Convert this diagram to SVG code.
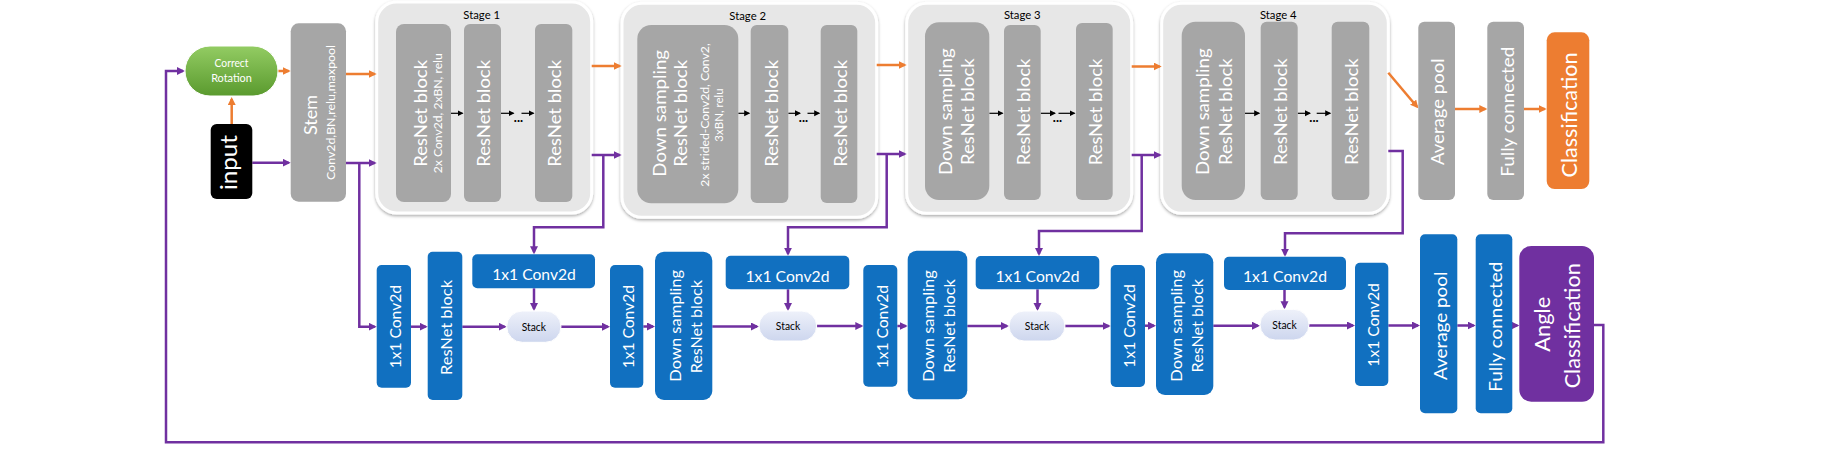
<svg xmlns="http://www.w3.org/2000/svg" width="1847" height="451" viewBox="0 0 1847 451">
<defs>
<style>
text{font-family:Lato,"Liberation Sans",sans-serif;}
.g{fill:#A6A6A6;}
.b{fill:#1170C0;}
.stage{fill:#E7E7E7;stroke:#FFFFFF;stroke-width:3;filter:url(#sh);}
.wt{fill:#FFFFFF;}
.vl{font-size:18px;fill:#FFFFFF;text-anchor:middle;}
.vs{font-size:11.5px;fill:#FFFFFF;text-anchor:middle;}
.bl{font-size:16px;fill:#FFFFFF;text-anchor:middle;}
.st{font-size:11.5px;fill:#000000;text-anchor:middle;}
.sk{font-size:10.5px;fill:#000000;text-anchor:middle;}
.pu{fill:none;stroke:#7030A0;stroke-width:2.5;}
.or{fill:none;stroke:#ED7D31;stroke-width:2.5;}
.bk{fill:none;stroke:#000000;stroke-width:1.2;}
.dots{font-size:13px;font-weight:bold;fill:#000000;text-anchor:middle;}
</style>
<filter id="sh" x="-10%" y="-10%" width="120%" height="120%">
<feDropShadow dx="0" dy="1.5" stdDeviation="1.5" flood-color="#000000" flood-opacity="0.35"/>
</filter>
<linearGradient id="gg" x1="0" y1="0" x2="0" y2="1">
<stop offset="0" stop-color="#93CC63"/>
<stop offset="1" stop-color="#5A9A2E"/>
</linearGradient>
<linearGradient id="sg" x1="0" y1="0" x2="0" y2="1">
<stop offset="0" stop-color="#EEF1FA"/>
<stop offset="1" stop-color="#CDD6EE"/>
</linearGradient>
<marker id="ap" markerUnits="userSpaceOnUse" markerWidth="9" markerHeight="9" refX="6" refY="4" orient="auto">
<path d="M0,0 L8,4 L0,8 z" fill="#7030A0"/>
</marker>
<marker id="ao" markerUnits="userSpaceOnUse" markerWidth="9" markerHeight="9" refX="6" refY="4" orient="auto">
<path d="M0,0 L8,4 L0,8 z" fill="#ED7D31"/>
</marker>
<marker id="ak" markerUnits="userSpaceOnUse" markerWidth="7" markerHeight="7" refX="5" refY="3" orient="auto">
<path d="M0,0 L6,3 L0,6 z" fill="#000000"/>
</marker>
</defs>
<rect x="0" y="0" width="1847" height="451" fill="#FFFFFF"/>

<!-- Stage containers -->
<g id="stage1">
<rect class="stage" x="376.7" y="2" width="215" height="211" rx="20"/>
<text class="st" x="481.7" y="19" textLength="36.7" lengthAdjust="spacingAndGlyphs">Stage 1</text>
</g>
<g id="stage2">
<rect class="stage" x="622" y="3.3" width="254.7" height="214" rx="20"/>
<text class="st" x="747.7" y="20" textLength="36.7" lengthAdjust="spacingAndGlyphs">Stage 2</text>
</g>
<g id="stage3">
<rect class="stage" x="906.7" y="3.3" width="225" height="210" rx="20"/>
<text class="st" x="1022.3" y="19" textLength="36.7" lengthAdjust="spacingAndGlyphs">Stage 3</text>
</g>
<g id="stage4">
<rect class="stage" x="1161.7" y="3.3" width="226.6" height="210" rx="20"/>
<text class="st" x="1278.3" y="19" textLength="36.7" lengthAdjust="spacingAndGlyphs">Stage 4</text>
</g>

<!-- Connectors -->
<g id="connectors">
<path class="or" d="M231.7,124 V99" marker-end="url(#ao)"/>
<path class="or" d="M278,71 H288.7" marker-end="url(#ao)"/>
<path class="or" d="M346,74 H374.7" marker-end="url(#ao)"/>
<path class="or" d="M591.7,66 H619.7" marker-end="url(#ao)"/>
<path class="or" d="M876.7,65 H904.7" marker-end="url(#ao)"/>
<path class="or" d="M1131.7,66.5 H1159.7" marker-end="url(#ao)"/>
<path class="or" d="M1388.3,72.7 L1417,106.8" marker-end="url(#ao)"/>
<path class="or" d="M1455,109 H1485.3" marker-end="url(#ao)"/>
<path class="or" d="M1524,109 H1544.7" marker-end="url(#ao)"/>

<path class="pu" d="M252.3,162.7 H288.7" marker-end="url(#ap)"/>
<path class="pu" d="M346,163 H374.7" marker-end="url(#ap)"/>
<path class="pu" d="M359.3,163 V326.7 H374.7" marker-end="url(#ap)"/>
<path class="pu" d="M591.7,155 H619.7" marker-end="url(#ap)"/>
<path class="pu" d="M603.3,155 V227.3 H534 V252.3" marker-end="url(#ap)"/>
<path class="pu" d="M876.7,154 H904.7" marker-end="url(#ap)"/>
<path class="pu" d="M886.7,154 V227.3 H788 V253.7" marker-end="url(#ap)"/>
<path class="pu" d="M1131.7,155 H1159.7" marker-end="url(#ap)"/>
<path class="pu" d="M1141.7,155 V231 H1039 V254" marker-end="url(#ap)"/>
<path class="pu" d="M1388.3,151 H1402.7 V233.3 H1285 V254.7" marker-end="url(#ap)"/>

<path class="pu" d="M411,326.7 H425.7" marker-end="url(#ap)"/>
<path class="pu" d="M462.3,326.7 H504.7" marker-end="url(#ap)"/>
<path class="pu" d="M534,288.3 V309" marker-end="url(#ap)"/>
<path class="pu" d="M561,326.7 H608" marker-end="url(#ap)"/>
<path class="pu" d="M643.3,326.5 H653" marker-end="url(#ap)"/>
<path class="pu" d="M712.3,326.5 H757" marker-end="url(#ap)"/>
<path class="pu" d="M788,289.3 V309" marker-end="url(#ap)"/>
<path class="pu" d="M816.7,326 H861.3" marker-end="url(#ap)"/>
<path class="pu" d="M897.3,326 H905.7" marker-end="url(#ap)"/>
<path class="pu" d="M967.3,326 H1007" marker-end="url(#ap)"/>
<path class="pu" d="M1037.5,289.3 V309" marker-end="url(#ap)"/>
<path class="pu" d="M1065,326 H1108.7" marker-end="url(#ap)"/>
<path class="pu" d="M1145,325.7 H1154" marker-end="url(#ap)"/>
<path class="pu" d="M1213.3,325.7 H1258" marker-end="url(#ap)"/>
<path class="pu" d="M1284.5,290 V307.3" marker-end="url(#ap)"/>
<path class="pu" d="M1309,325.5 H1353" marker-end="url(#ap)"/>
<path class="pu" d="M1388.3,325.5 H1418" marker-end="url(#ap)"/>
<path class="pu" d="M1457.3,325.5 H1473.7" marker-end="url(#ap)"/>
<path class="pu" d="M1512.3,325.5 H1517.3" marker-end="url(#ap)"/>
<path class="pu" d="M1594,325 H1603.3 V442.3 H166 V71 H183" marker-end="url(#ap)"/>

<path class="bk" d="M451,113.3 H462.5" marker-end="url(#ak)"/>
<path class="bk" d="M501,113.3 H513.5" marker-end="url(#ak)"/>
<path class="bk" d="M521.5,113.3 H533.5" marker-end="url(#ak)"/>
<path class="bk" d="M738.3,113.3 H749.2" marker-end="url(#ak)"/>
<path class="bk" d="M788.3,113.3 H800" marker-end="url(#ak)"/>
<path class="bk" d="M807.5,113.3 H819.2" marker-end="url(#ak)"/>
<path class="bk" d="M989.3,113.3 H1002.5" marker-end="url(#ak)"/>
<path class="bk" d="M1040.7,113.3 H1055" marker-end="url(#ak)"/>
<path class="bk" d="M1058.5,113.3 H1074.5" marker-end="url(#ak)"/>
<path class="bk" d="M1245,113.3 H1259.2" marker-end="url(#ak)"/>
<path class="bk" d="M1297.7,113.3 H1310" marker-end="url(#ak)"/>
<path class="bk" d="M1316.7,113.3 H1330.2" marker-end="url(#ak)"/>
<text class="dots" x="518.5" y="122">...</text>
<text class="dots" x="803.5" y="122">...</text>
<text class="dots" x="1057.5" y="122">...</text>
<text class="dots" x="1314" y="122">...</text>
</g>

<!-- Top row nodes -->
<g id="correct-rotation">
<rect x="185" y="46" width="93" height="50" rx="25" fill="url(#gg)" stroke="#FFFFFF" stroke-width="1"/>
<text x="231.5" y="67" font-size="10.5" fill="#FFFFFF" text-anchor="middle" textLength="34" lengthAdjust="spacingAndGlyphs">Correct</text>
<text x="231.5" y="82" font-size="10.5" fill="#FFFFFF" text-anchor="middle" textLength="40.7" lengthAdjust="spacingAndGlyphs">Rotation</text>
</g>
<g id="input">
<rect x="210.7" y="124" width="41.6" height="75" rx="6" fill="#000000"/>
<text transform="translate(237,162.5) rotate(-90)" font-size="23" fill="#FFFFFF" text-anchor="middle" textLength="55" lengthAdjust="spacingAndGlyphs">input</text>
</g>
<g id="stem">
<rect class="g" x="290.7" y="23.3" width="55.3" height="178.4" rx="8"/>
<text class="vl" transform="translate(316.7,115) rotate(-90)" font-size="17" textLength="40" lengthAdjust="spacingAndGlyphs">Stem</text>
<text class="vs" transform="translate(335,112.5) rotate(-90)" textLength="135" lengthAdjust="spacingAndGlyphs">Conv2d,BN,relu,maxpool</text>
</g>

<g id="s1-block1">
<rect class="g" x="396" y="24" width="55" height="178" rx="8"/>
<text class="vl" transform="translate(426.7,113.3) rotate(-90)" textLength="106.7" lengthAdjust="spacingAndGlyphs">ResNet block</text>
<text class="vs" transform="translate(441.5,113.3) rotate(-90)" textLength="120" lengthAdjust="spacingAndGlyphs">2x Conv2d,  2xBN,  relu</text>
</g>
<g id="s1-block2">
<rect class="g" x="464" y="24" width="37" height="178" rx="6"/>
<text class="vl" transform="translate(490,113.3) rotate(-90)" textLength="106.7" lengthAdjust="spacingAndGlyphs">ResNet block</text>
</g>
<g id="s1-block3">
<rect class="g" x="535" y="24" width="37.3" height="178" rx="6"/>
<text class="vl" transform="translate(561.3,113.3) rotate(-90)" textLength="106.7" lengthAdjust="spacingAndGlyphs">ResNet block</text>
</g>

<g id="s2-block1">
<rect class="g" x="637.3" y="25" width="101" height="178.3" rx="14"/>
<text class="vl" transform="translate(666,113.3) rotate(-90)" textLength="126.7" lengthAdjust="spacingAndGlyphs">Down sampling</text>
<text class="vl" transform="translate(686.5,113.3) rotate(-90)" textLength="106.7" lengthAdjust="spacingAndGlyphs">ResNet block</text>
<text class="vs" transform="translate(709,115) rotate(-90)" textLength="143.3" lengthAdjust="spacingAndGlyphs">2x strided-Conv2d, Conv2,</text>
<text class="vs" transform="translate(723,115) rotate(-90)" textLength="53.3" lengthAdjust="spacingAndGlyphs">3xBN, relu</text>
</g>
<g id="s2-block2">
<rect class="g" x="750.7" y="25" width="37.6" height="178" rx="6"/>
<text class="vl" transform="translate(777.5,113.3) rotate(-90)" textLength="106.7" lengthAdjust="spacingAndGlyphs">ResNet block</text>
</g>
<g id="s2-block3">
<rect class="g" x="820.7" y="25" width="36.6" height="178" rx="6"/>
<text class="vl" transform="translate(846.5,113.3) rotate(-90)" textLength="106.7" lengthAdjust="spacingAndGlyphs">ResNet block</text>
</g>

<g id="s3-block1">
<rect class="g" x="925" y="22.3" width="64.3" height="177.7" rx="14"/>
<text class="vl" transform="translate(951.5,111.7) rotate(-90)" textLength="126.7" lengthAdjust="spacingAndGlyphs">Down sampling</text>
<text class="vl" transform="translate(974,111.7) rotate(-90)" textLength="106.7" lengthAdjust="spacingAndGlyphs">ResNet block</text>
</g>
<g id="s3-block2">
<rect class="g" x="1004" y="25" width="36.7" height="175" rx="6"/>
<text class="vl" transform="translate(1029.8,112) rotate(-90)" textLength="106.7" lengthAdjust="spacingAndGlyphs">ResNet block</text>
</g>
<g id="s3-block3">
<rect class="g" x="1076" y="23" width="36.7" height="177" rx="6"/>
<text class="vl" transform="translate(1101.8,112) rotate(-90)" textLength="106.7" lengthAdjust="spacingAndGlyphs">ResNet block</text>
</g>

<g id="s4-block1">
<rect class="g" x="1181.7" y="21.7" width="63.3" height="178.3" rx="14"/>
<text class="vl" transform="translate(1208.5,111.7) rotate(-90)" textLength="126.7" lengthAdjust="spacingAndGlyphs">Down sampling</text>
<text class="vl" transform="translate(1232,111.7) rotate(-90)" textLength="106.7" lengthAdjust="spacingAndGlyphs">ResNet block</text>
</g>
<g id="s4-block2">
<rect class="g" x="1260.7" y="21.7" width="37" height="178.3" rx="6"/>
<text class="vl" transform="translate(1286.7,111.7) rotate(-90)" textLength="106.7" lengthAdjust="spacingAndGlyphs">ResNet block</text>
</g>
<g id="s4-block3">
<rect class="g" x="1331.7" y="21.7" width="37.6" height="178.3" rx="6"/>
<text class="vl" transform="translate(1358,111.7) rotate(-90)" textLength="106.7" lengthAdjust="spacingAndGlyphs">ResNet block</text>
</g>

<g id="avgpool-top">
<rect class="g" x="1418.3" y="21.7" width="36.7" height="178.3" rx="6"/>
<text class="vl" transform="translate(1444,111.7) rotate(-90)" textLength="106.7" lengthAdjust="spacingAndGlyphs">Average pool</text>
</g>
<g id="fc-top">
<rect class="g" x="1487.3" y="21.7" width="36.7" height="178.3" rx="6"/>
<text class="vl" transform="translate(1513.5,111.7) rotate(-90)" textLength="130" lengthAdjust="spacingAndGlyphs">Fully connected</text>
</g>
<g id="classification">
<rect x="1546.7" y="32.3" width="42.6" height="156.7" rx="8" fill="#ED7D31"/>
<text transform="translate(1576.5,115) rotate(-90)" font-size="21" fill="#FFFFFF" text-anchor="middle" textLength="125" lengthAdjust="spacingAndGlyphs">Classification</text>
</g>

<!-- Bottom row nodes -->
<g id="b-conv1">
<rect class="b" x="376.7" y="265" width="34.3" height="122.7" rx="5"/>
<text class="bl" transform="translate(401,326.7) rotate(-90)" textLength="83.3" lengthAdjust="spacingAndGlyphs">1x1 Conv2d</text>
</g>
<g id="b-resnet">
<rect class="b" x="427.7" y="251.7" width="34.6" height="148.3" rx="5"/>
<text class="bl" transform="translate(451.5,327.5) rotate(-90)" textLength="95" lengthAdjust="spacingAndGlyphs">ResNet block</text>
</g>
<g id="b-hconv1">
<rect class="b" x="472.3" y="254.3" width="122.7" height="34" rx="5"/>
<text class="bl" x="534" y="280" textLength="83.7" lengthAdjust="spacingAndGlyphs">1x1 Conv2d</text>
</g>
<g id="b-stack1">
<rect x="506.7" y="311" width="54.3" height="31.3" rx="15.6" fill="url(#sg)" stroke="#FFFFFF" stroke-width="1"/>
<text class="sk" x="533.8" y="330.5" textLength="24.3" lengthAdjust="spacingAndGlyphs">Stack</text>
</g>
<g id="b-conv2">
<rect class="b" x="610" y="265" width="33.3" height="122.7" rx="5"/>
<text class="bl" transform="translate(633.5,326.7) rotate(-90)" textLength="83.3" lengthAdjust="spacingAndGlyphs">1x1 Conv2d</text>
</g>
<g id="b-ds1">
<rect class="b" x="655" y="251.7" width="57.3" height="148.3" rx="9"/>
<text class="bl" transform="translate(680.5,325.8) rotate(-90)" textLength="111.7" lengthAdjust="spacingAndGlyphs">Down sampling</text>
<text class="bl" transform="translate(701.5,326.7) rotate(-90)" textLength="93.3" lengthAdjust="spacingAndGlyphs">ResNet block</text>
</g>
<g id="b-hconv2">
<rect class="b" x="725.7" y="255.7" width="123.6" height="33.6" rx="5"/>
<text class="bl" x="787.5" y="281.5" textLength="84" lengthAdjust="spacingAndGlyphs">1x1 Conv2d</text>
</g>
<g id="b-stack2">
<rect x="759" y="311" width="57.7" height="30" rx="15" fill="url(#sg)" stroke="#FFFFFF" stroke-width="1"/>
<text class="sk" x="788" y="330" textLength="24.3" lengthAdjust="spacingAndGlyphs">Stack</text>
</g>
<g id="b-conv3">
<rect class="b" x="863.3" y="265" width="34" height="121.7" rx="5"/>
<text class="bl" transform="translate(887.5,326.7) rotate(-90)" textLength="83.3" lengthAdjust="spacingAndGlyphs">1x1 Conv2d</text>
</g>
<g id="b-ds2">
<rect class="b" x="907.7" y="250.7" width="59.6" height="148.6" rx="9"/>
<text class="bl" transform="translate(933.5,326) rotate(-90)" textLength="111.7" lengthAdjust="spacingAndGlyphs">Down sampling</text>
<text class="bl" transform="translate(955,326) rotate(-90)" textLength="93.3" lengthAdjust="spacingAndGlyphs">ResNet block</text>
</g>
<g id="b-hconv3">
<rect class="b" x="975.7" y="256" width="123.6" height="33.3" rx="5"/>
<text class="bl" x="1037.5" y="281.5" textLength="84" lengthAdjust="spacingAndGlyphs">1x1 Conv2d</text>
</g>
<g id="b-stack3">
<rect x="1009" y="311" width="56" height="30" rx="15" fill="url(#sg)" stroke="#FFFFFF" stroke-width="1"/>
<text class="sk" x="1037" y="330" textLength="24.3" lengthAdjust="spacingAndGlyphs">Stack</text>
</g>
<g id="b-conv4">
<rect class="b" x="1110.7" y="265" width="34.3" height="122" rx="5"/>
<text class="bl" transform="translate(1135,326) rotate(-90)" textLength="83.3" lengthAdjust="spacingAndGlyphs">1x1 Conv2d</text>
</g>
<g id="b-ds3">
<rect class="b" x="1156" y="253.3" width="57.3" height="141.7" rx="9"/>
<text class="bl" transform="translate(1182,325.8) rotate(-90)" textLength="111.7" lengthAdjust="spacingAndGlyphs">Down sampling</text>
<text class="bl" transform="translate(1203,325.8) rotate(-90)" textLength="93.3" lengthAdjust="spacingAndGlyphs">ResNet block</text>
</g>
<g id="b-hconv4">
<rect class="b" x="1224" y="256.7" width="122" height="33.3" rx="5"/>
<text class="bl" x="1285" y="282" textLength="84" lengthAdjust="spacingAndGlyphs">1x1 Conv2d</text>
</g>
<g id="b-stack4">
<rect x="1260" y="309.3" width="49" height="30.7" rx="15.3" fill="url(#sg)" stroke="#FFFFFF" stroke-width="1"/>
<text class="sk" x="1284.5" y="329" textLength="24.3" lengthAdjust="spacingAndGlyphs">Stack</text>
</g>
<g id="b-conv5">
<rect class="b" x="1355" y="262.7" width="33.3" height="123.3" rx="5"/>
<text class="bl" transform="translate(1379,325) rotate(-90)" textLength="83.3" lengthAdjust="spacingAndGlyphs">1x1 Conv2d</text>
</g>
<g id="b-avgpool">
<rect class="b" x="1420" y="234.3" width="37.3" height="179" rx="5"/>
<text class="vl" transform="translate(1446.5,325.8) rotate(-90)" textLength="108.3" lengthAdjust="spacingAndGlyphs">Average pool</text>
</g>
<g id="b-fc">
<rect class="b" x="1475.7" y="234.3" width="36.6" height="179" rx="5"/>
<text class="vl" transform="translate(1501.5,326.7) rotate(-90)" textLength="130" lengthAdjust="spacingAndGlyphs">Fully connected</text>
</g>
<g id="angle-classification">
<rect x="1519.3" y="246" width="74.7" height="155.7" rx="12" fill="#7030A0"/>
<text transform="translate(1550,324.2) rotate(-90)" font-size="21" fill="#FFFFFF" text-anchor="middle" textLength="55" lengthAdjust="spacingAndGlyphs">Angle</text>
<text transform="translate(1580,325.8) rotate(-90)" font-size="21" fill="#FFFFFF" text-anchor="middle" textLength="125" lengthAdjust="spacingAndGlyphs">Classification</text>
</g>
</svg>
